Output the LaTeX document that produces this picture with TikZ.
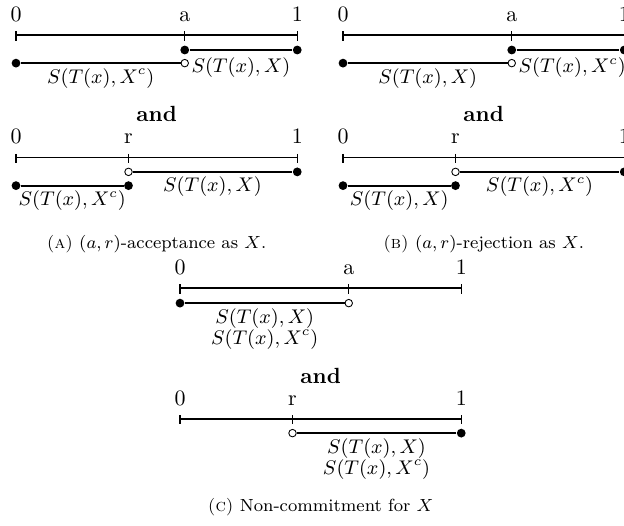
\documentclass[tikz,border=0pt]{standalone}
\usepackage{tikz}
\usetikzlibrary{positioning,calc}
\usepackage{amsmath}

\begin{document}
\begin{tikzpicture}[
  ax/.style={line width=0.8pt},
  tck/.style={line width=0.6pt},
  seg/.style={line width=0.8pt},
  fdot/.style={circle,fill,inner sep=0pt,minimum size=4pt},
  odot/.style={circle,draw,fill=white,line width=0.4pt,inner sep=0pt,minimum size=3.4pt},
  num/.style={anchor=base,inner sep=0pt},
  lbl/.style={inner sep=2pt,font=\small},
  side/.style={anchor=west,inner sep=1pt,yshift=-0.07cm,font=\small},
  andw/.style={anchor=base,font=\bfseries},
  capt/.style={anchor=base,font=\footnotesize}
]
  \useasboundingbox (0,-8.4) rectangle (9.984,0);

  % ── (A) acceptance ──
  \begin{scope}[shift={(0.256,-0.56)}]
    \coordinate (A1z) at (0,0); \coordinate (A1a) at (2.7,0); \coordinate (A1o) at (4.5,0);
    \draw[ax](A1z)--(A1o);
    \foreach \p in {A1z,A1a,A1o}{\draw[tck]([yshift=0.06cm]\p)--([yshift=-0.09cm]\p);}
    \node[num](A1zl) at (0,0.22){0};
    \node[num](A1al) at (2.7,0.22){a};
    \node[num](A1ol) at (4.5,0.22){1};
    \node[fdot](A1p) at (2.7,-0.24){};
    \node[fdot](A1q) at (4.5,-0.24){};
    \draw[seg](A1p)--(A1q);
    \node[fdot](A1s) at (0,-0.45){};
    \node[odot](A1t) at (2.7,-0.45){};
    \draw[seg](A1s)--(A1t) node[lbl,midway,below](A1c){$S(T(x),X^c)$};
    \node[side](A1x) at (A1t.east){$S(T(x),X)$};
  \end{scope}
  \node[andw](A-and) at (2.506,-1.95){and};
  \begin{scope}[shift={(0.256,-2.52)}]
    \coordinate (A2z) at (0,0); \coordinate (A2r) at (1.8,0); \coordinate (A2o) at (4.5,0);
    \draw[ax](A2z)--(A2o);
    \foreach \p in {A2z,A2r,A2o}{\draw[tck]([yshift=0.06cm]\p)--([yshift=-0.09cm]\p);}
    \node[num](A2zl) at (0,0.22){0};
    \node[num](A2rl) at (1.8,0.22){r};
    \node[num](A2ol) at (4.5,0.22){1};
    \node[odot](A2p) at (1.8,-0.23){};
    \node[fdot](A2q) at (4.5,-0.23){};
    \draw[seg](A2p)--(A2q) node[lbl,midway,below](A2x){$S(T(x),X)$};
    \node[fdot](A2s) at (0,-0.45){};
    \node[fdot](A2t) at (1.8,-0.45){};
    \draw[seg](A2s)--(A2t) node[lbl,midway,below](A2c){$S(T(x),X^c)$};
  \end{scope}
  \node[capt](A-cap) at (2.506,-3.97){\textsc{(a)} $(a,r)$-acceptance as $X$.};

  % ── (B) rejection ──
  \begin{scope}[shift={(5.488,-0.56)}]
    \coordinate (B1z) at (0,0); \coordinate (B1a) at (2.7,0); \coordinate (B1o) at (4.5,0);
    \draw[ax](B1z)--(B1o);
    \foreach \p in {B1z,B1a,B1o}{\draw[tck]([yshift=0.06cm]\p)--([yshift=-0.09cm]\p);}
    \node[num](B1zl) at (0,0.22){0};
    \node[num](B1al) at (2.7,0.22){a};
    \node[num](B1ol) at (4.5,0.22){1};
    \node[fdot](B1p) at (2.7,-0.24){};
    \node[fdot](B1q) at (4.5,-0.24){};
    \draw[seg](B1p)--(B1q);
    \node[fdot](B1s) at (0,-0.45){};
    \node[odot](B1t) at (2.7,-0.45){};
    \draw[seg](B1s)--(B1t) node[lbl,midway,below](B1x){$S(T(x),X)$};
    \node[side](B1c) at (B1t.east){$S(T(x),X^c)$};
  \end{scope}
  \node[andw](B-and) at (7.738,-1.95){and};
  \begin{scope}[shift={(5.488,-2.52)}]
    \coordinate (B2z) at (0,0); \coordinate (B2r) at (1.8,0); \coordinate (B2o) at (4.5,0);
    \draw[ax](B2z)--(B2o);
    \foreach \p in {B2z,B2r,B2o}{\draw[tck]([yshift=0.06cm]\p)--([yshift=-0.09cm]\p);}
    \node[num](B2zl) at (0,0.22){0};
    \node[num](B2rl) at (1.8,0.22){r};
    \node[num](B2ol) at (4.5,0.22){1};
    \node[odot](B2p) at (1.8,-0.23){};
    \node[fdot](B2q) at (4.5,-0.23){};
    \draw[seg](B2p)--(B2q) node[lbl,midway,below](B2c){$S(T(x),X^c)$};
    \node[fdot](B2s) at (0,-0.45){};
    \node[fdot](B2t) at (1.8,-0.45){};
    \draw[seg](B2s)--(B2t) node[lbl,midway,below](B2x){$S(T(x),X)$};
  \end{scope}
  \node[capt](B-cap) at (7.738,-3.97){\textsc{(b)} $(a,r)$-rejection as $X$.};

  % ── (C) non-commitment ──
  \begin{scope}[shift={(2.88,-4.61)}]
    \coordinate (C1z) at (0,0); \coordinate (C1a) at (2.7,0); \coordinate (C1o) at (4.5,0);
    \draw[ax](C1z)--(C1o);
    \foreach \p in {C1z,C1a,C1o}{\draw[tck]([yshift=0.06cm]\p)--([yshift=-0.09cm]\p);}
    \node[num](C1zl) at (0,0.22){0};
    \node[num](C1al) at (2.7,0.22){a};
    \node[num](C1ol) at (4.5,0.22){1};
    \node[fdot](C1s) at (0,-0.24){};
    \node[odot](C1t) at (2.7,-0.24){};
    \draw[seg](C1s)--(C1t) node[lbl,midway,below,align=center](C1x)
        {$S(T(x),X)$\\[-1.5pt]$S(T(x),X^c)$};
  \end{scope}
  \node[andw](C-and) at (5.13,-6.13){and};
  \begin{scope}[shift={(2.88,-6.70)}]
    \coordinate (C2z) at (0,0); \coordinate (C2r) at (1.8,0); \coordinate (C2o) at (4.5,0);
    \draw[ax](C2z)--(C2o);
    \foreach \p in {C2z,C2r,C2o}{\draw[tck]([yshift=0.06cm]\p)--([yshift=-0.09cm]\p);}
    \node[num](C2zl) at (0,0.22){0};
    \node[num](C2rl) at (1.8,0.22){r};
    \node[num](C2ol) at (4.5,0.22){1};
    \node[odot](C2p) at (1.8,-0.23){};
    \node[fdot](C2q) at (4.5,-0.23){};
    \draw[seg](C2p)--(C2q) node[lbl,midway,below,align=center](C2x)
        {$S(T(x),X)$\\[-1.5pt]$S(T(x),X^c)$};
  \end{scope}
  \node[capt](C-cap) at (5.13,-8.18){\textsc{(c)} Non-commitment for $X$};
\end{tikzpicture}
\end{document}
